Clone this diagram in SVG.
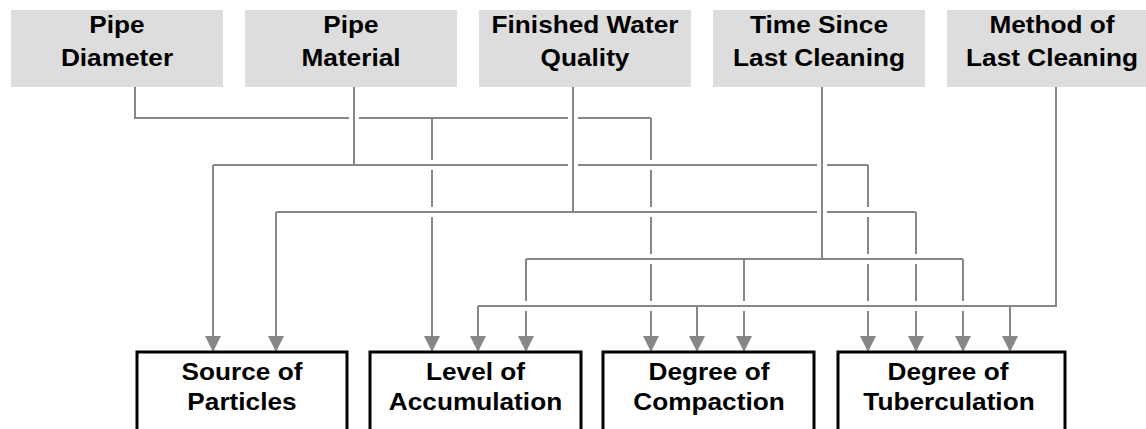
<svg xmlns="http://www.w3.org/2000/svg" width="1146" height="429" viewBox="0 0 1146 429">
<style>
.src rect{fill:#dddddd;stroke:none}
.dst rect{fill:#ffffff;stroke:#000000;stroke-width:3}
text{font-family:"Liberation Sans",Arial,Helvetica,sans-serif;font-weight:bold;font-size:23px;fill:#000000;text-anchor:middle}
.c path{fill:none;stroke:#878787;stroke-width:2}
.c .a{marker-end:url(#ah)}
</style>
<defs>
<marker id="ah" markerUnits="userSpaceOnUse" markerWidth="16" markerHeight="16" refX="15" refY="8" orient="auto" viewBox="0 0 16 16">
<path d="M0,0 L16,8 L0,16 z" fill="#878787"/>
</marker>
</defs>
<g id="n-pipe-diameter" class="src">
<rect x="11" y="10" width="212" height="77"/>
<text transform="translate(117 33) scale(1.14 1)">Pipe</text>
<text transform="translate(117 66) scale(1.14 1)">Diameter</text>
</g>
<g id="n-pipe-material" class="src">
<rect x="245" y="10" width="212" height="77"/>
<text transform="translate(351 33) scale(1.14 1)">Pipe</text>
<text transform="translate(351 66) scale(1.14 1)">Material</text>
</g>
<g id="n-finished-water" class="src">
<rect x="479" y="10" width="212" height="77"/>
<text transform="translate(585 33) scale(1.14 1)">Finished Water</text>
<text transform="translate(585 66) scale(1.14 1)">Quality</text>
</g>
<g id="n-time-since" class="src">
<rect x="713" y="10" width="212" height="77"/>
<text transform="translate(819 33) scale(1.14 1)">Time Since</text>
<text transform="translate(819 66) scale(1.14 1)">Last Cleaning</text>
</g>
<g id="n-method" class="src">
<rect x="947" y="10" width="212" height="77"/>
<text transform="translate(1052 33) scale(1.14 1)">Method of</text>
<text transform="translate(1052 66) scale(1.14 1)">Last Cleaning</text>
</g>
<g id="connectors" class="c">
<!-- Pipe Diameter -->
<path d="M135,87 V118 H349 M359,118 H568 M578,118 H651"/>
<path class="a" d="M432,118 V160 M432,170 V207 M432,217 V351"/>
<path class="a" d="M651,118 V160 M651,170 V207 M651,217 V254 M651,264 V301 M651,311 V351"/>
<!-- Pipe Material -->
<path d="M354,87 V165 M213,165 H568 M578,165 H817 M827,165 H868"/>
<path class="a" d="M213,165 V351"/>
<path class="a" d="M868,165 V207 M868,217 V254 M868,264 V301 M868,311 V351"/>
<!-- Finished Water Quality -->
<path d="M573,87 V212 M276,212 H817 M827,212 H916"/>
<path class="a" d="M276,212 V351"/>
<path class="a" d="M916,212 V254 M916,264 V301 M916,311 V351"/>
<!-- Time Since Last Cleaning -->
<path d="M822,87 V259 M526,259 H963"/>
<path class="a" d="M526,259 V301 M526,311 V351"/>
<path class="a" d="M744,259 V301 M744,311 V351"/>
<path class="a" d="M963,259 V301 M963,311 V351"/>
<!-- Method of Last Cleaning -->
<path d="M1056,87 V306 H478"/>
<path class="a" d="M478,306 V351"/>
<path class="a" d="M697,306 V351"/>
<path class="a" d="M1010,306 V351"/>
</g>
<g id="n-source" class="dst">
<rect x="137" y="352" width="210" height="100"/>
<text transform="translate(242 380) scale(1.14 1)">Source of</text>
<text transform="translate(242 410) scale(1.14 1)">Particles</text>
</g>
<g id="n-level" class="dst">
<rect x="370" y="352" width="211" height="100"/>
<text transform="translate(475.5 380) scale(1.14 1)">Level of</text>
<text transform="translate(475.5 410) scale(1.14 1)">Accumulation</text>
</g>
<g id="n-compaction" class="dst">
<rect x="603" y="352" width="211" height="100"/>
<text transform="translate(709 380) scale(1.14 1)">Degree of</text>
<text transform="translate(709 410) scale(1.14 1)">Compaction</text>
</g>
<g id="n-tuberculation" class="dst">
<rect x="838" y="352" width="227" height="100"/>
<text transform="translate(948 380) scale(1.14 1)">Degree of</text>
<text transform="translate(949 410) scale(1.14 1)">Tuberculation</text>
</g>
</svg>
